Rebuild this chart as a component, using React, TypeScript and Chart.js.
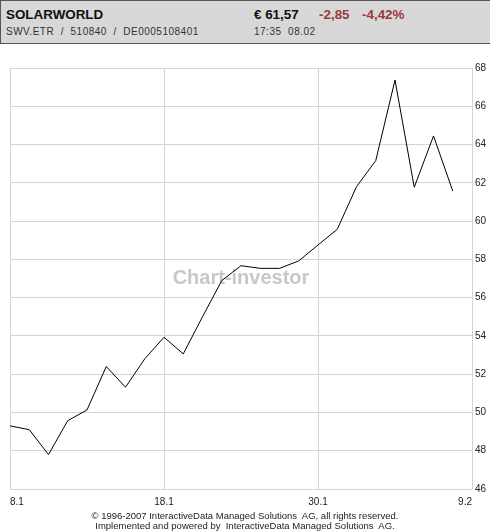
import React, { useEffect, useRef } from 'react';
import { Chart, registerables } from 'chart.js';
Chart.register(...registerables);

const dates = ['8.1', '9.1', '10.1', '11.1', '12.1', '15.1', '16.1', '17.1', '18.1', '19.1', '22.1', '23.1', '24.1', '25.1', '26.1', '29.1', '30.1', '31.1', '1.2', '2.2', '5.2', '6.2', '7.2', '8.2', '9.2'];
const prices = [49.3, 49.1, 47.8, 49.57, 50.13, 52.4, 51.32, 52.8, 53.93, 53.06, 55.0, 56.89, 57.67, 57.53, 57.53, 57.92, 58.75, 59.57, 61.8, 63.16, 67.37, 61.77, 64.45, 61.57];
const xTickLabels = ['8.1', '18.1', '30.1', '9.2'];
const yMin = 46;
const yMax = 68;
const yStep = 2;

const FONT = '"Liberation Sans", Arial, Helvetica, sans-serif';

const watermark = {
  id: 'watermark',
  beforeDatasetsDraw(chart: any) {
    const { ctx, chartArea } = chart;
    ctx.save();
    ctx.font = 'bold 20px ' + FONT;
    ctx.fillStyle = '#c8c8c8';
    ctx.textAlign = 'center';
    ctx.textBaseline = 'middle';
    ctx.fillText('Chart-investor', (chartArea.left + chartArea.right) / 2, (chartArea.top + chartArea.bottom) / 2);
    ctx.restore();
  },
};

export default function App() {
  const ref = useRef<HTMLCanvasElement>(null);
  useEffect(() => {
    document.body.style.margin = '0';
    const points = prices.map((p, i) => ({ x: i, y: p }));
    const tickIdx = xTickLabels.map((l) => dates.indexOf(l));
    const chart = new Chart(ref.current!, {
      type: 'line',
      data: {
        datasets: [
          {
            data: points,
            borderColor: '#000000',
            borderWidth: 1,
            pointRadius: 0,
            tension: 0,
            fill: false,
          },
        ],
      },
      options: {
        animation: false,
        responsive: false,
        events: [],
        layout: { padding: { left: 10, top: 68, right: 0, bottom: 0 } },
        plugins: { legend: { display: false }, tooltip: { enabled: false }, title: { display: false } },
        scales: {
          x: {
            type: 'linear',
            min: 0,
            max: dates.length - 1,
            afterBuildTicks: (scale: any) => {
              scale.ticks = tickIdx.map((v) => ({ value: v }));
            },
            afterFit: (scale: any) => {
              scale.height = 43;
            },
            grid: { color: '#d4d4d4', drawTicks: false },
            border: { display: false },
            ticks: {
              callback: (v: any) => dates[v as number],
              autoSkip: false,
              maxRotation: 0,
              align: 'inner',
              padding: 7,
              color: '#222',
              font: { family: FONT, size: 10 },
            },
          },
          y: {
            position: 'right',
            min: yMin,
            max: yMax,
            afterFit: (scale: any) => {
              scale.width = 18;
            },
            grid: { color: '#d4d4d4', drawTicks: false },
            border: { display: false },
            ticks: {
              stepSize: yStep,
              padding: 3,
              color: '#222',
              font: { family: FONT, size: 10 },
            },
          },
        },
      },
      plugins: [watermark],
    } as any);
    return () => chart.destroy();
  }, []);

  const abs = (o: any): React.CSSProperties => ({ position: 'absolute', whiteSpace: 'pre', fontFamily: FONT, ...o });

  return (
    <div style={{ position: 'relative', width: 490, height: 532, background: '#fff', overflow: 'hidden' }}>
      <canvas ref={ref} width={490} height={532} style={{ position: 'absolute', left: 0, top: 0, display: 'block' }} />
      <div
        style={{
          position: 'absolute',
          left: 0,
          top: 0,
          width: 490,
          height: 44,
          boxSizing: 'border-box',
          background: '#d8d8d8',
          borderTop: '1px solid #555',
          borderLeft: '1px solid #555',
          borderBottom: '1px solid #555',
        }}
      />
      <span style={abs({ left: 6, top: 8, fontSize: 13.4, lineHeight: '13.4px', fontWeight: 'bold', color: '#111' })}>SOLARWORLD</span>
      <span style={abs({ left: 6, top: 27, fontSize: 10, lineHeight: '10px', letterSpacing: '0.5px', color: '#333' })}>
        {'SWV.ETR  /  510840  /  DE0005108401'}
      </span>
      <span style={abs({ left: 254, top: 8, fontSize: 13.4, lineHeight: '13.4px', fontWeight: 'bold', color: '#111' })}>€ 61,57</span>
      <span style={abs({ left: 319, top: 8, fontSize: 13.4, lineHeight: '13.4px', fontWeight: 'bold', color: '#9c3a3e' })}>-2,85</span>
      <span style={abs({ left: 362, top: 8, fontSize: 13.4, lineHeight: '13.4px', fontWeight: 'bold', color: '#9c3a3e' })}>-4,42%</span>
      <span style={abs({ left: 254, top: 27, fontSize: 10, lineHeight: '10px', letterSpacing: '0.5px', color: '#333' })}>{'17:35  08.02'}</span>
      <div style={abs({ left: 0, top: 511, width: 490, textAlign: 'center', fontSize: 9.5, lineHeight: '10px', color: '#222' })}>
        {'© 1996-2007 InteractiveData Managed Solutions  AG, all rights reserved.'}
      </div>
      <div style={abs({ left: 0, top: 521, width: 490, textAlign: 'center', fontSize: 9.5, lineHeight: '10px', color: '#222' })}>
        {'Implemented and powered by  InteractiveData Managed Solutions  AG.'}
      </div>
    </div>
  );
}
